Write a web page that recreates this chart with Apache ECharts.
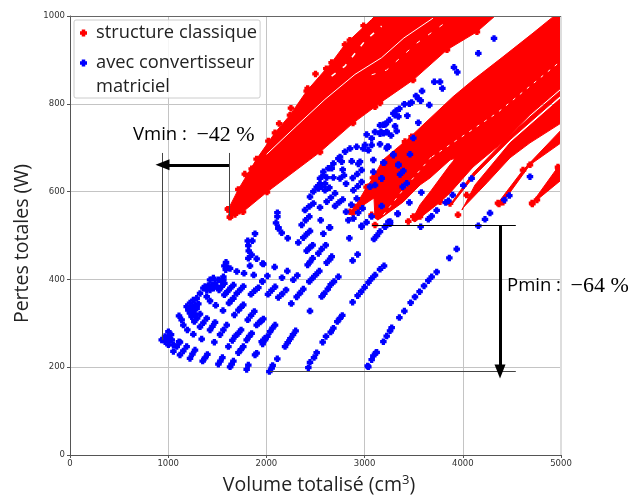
<!DOCTYPE html>
<html>
<head>
<meta charset="utf-8">
<style>html,body{margin:0;padding:0;background:#fff}#c{width:636px;height:495px}</style>
<script src="https://cdn.jsdelivr.net/npm/echarts@6/dist/echarts.min.js"></script>
</head>
<body>
<div id="c"></div>
<script>
// Red regions: outlines as [volume, losses]
const bandA = [[4328,1000],[4144,964],[3839,923],[3493,854],[3157,802],[3106,793],[2882,756],[2546,690],[2006,599],[1762,554],[1629,542],[1609,560],[1612,560],[1714,605],[1900,674],[2087,734],[2240,774],[2410,829],[2664,894],[2800,935],[3071,992],[3105,1000]];
const bandB = [[3085,631],[3187,672],[3462,724],[3900,816],[4104,854],[4409,907],[4715,961],[4918,998],[5000,1000],[5000,836],[4684,775],[4409,713],[4104,656],[3870,597],[3768,576],[3513,531],[3483,535],[3564,570],[3666,599],[3870,661],[3931,677],[3870,672],[3666,631],[3564,615],[3391,576],[3136,535],[3106,540]];
const bandTail = [[2851,554],[2902,565],[3020,610],[3085,631],[3187,620],[3126,590],[2933,561],[2882,551]];
const bandY = [[3870,570],[4104,642],[4450,722],[4684,770],[5000,831],[5000,820],[4481,718],[4124,638],[3900,574]];
const bandZ = [[3992,558],[4124,615],[4481,711],[5000,813],[5000,756],[4684,711],[4481,677],[4246,620],[4002,563]];
const bandF = [[4358,574],[4613,649],[5000,740],[5000,711],[4684,661],[4409,576]];
const bandG = [[4705,574],[4969,656],[5000,656],[5000,626],[4755,581]];
const redOutliers = [[3106,524],[3445,532],[3564,543],[3496,543],[3951,547],[3768,577],[3870,573],[4039,592],[3938,672],[3411,714],[3479,725],[3038,611],[3072,547],[4369,572],[4708,572],[4973,653],[1609,560],[1629,542],[1720,555],[1680,548],[1800,618],[1850,652],[1780,640],[2020,715],[2130,755],[2420,835],[2500,868],[2610,880],[2850,945],[2990,978],[2250,790]];

// White seams inside the red regions
const seamA = [[2002,685],[2308,750],[2596,810],[2902,867],[3173,905],[3400,950],[3696,995]];
const seamB = [[2664,863],[2800,886],[3003,943],[3173,977]];
const seamC = [[3072,866],[3225,877],[3530,938],[3836,987]];
const seamD = [[3686,679],[4348,779],[4969,892]];
const seamE = [[3136,531],[3391,604],[3696,683]];

// Blue points
const blueTipCluster = [[934,262],[968,258],[1002,251],[968,270],[1002,281],[1029,274],[985,262],[1019,262],[1002,270],[1036,262],[1053,251],[1110,258],[1053,236],[1087,247],[1120,257],[1120,228],[1154,237],[1188,247],[1222,220],[1247,230],[1273,239],[1351,214],[1375,221],[1399,229],[1511,207],[1531,214],[1552,222],[1630,201],[1647,207],[1664,214],[1715,233],[1740,240],[1765,247],[1884,228],[1901,232],[1799,195],[1816,205],[1110,317],[1137,308],[1154,296],[1195,285],[1256,275],[1341,264],[1470,257],[1613,247]];
const blueSecondRow = [[1188,338],[1222,346],[1256,353],[1290,357],[1205,330],[1239,336],[1273,342],[1307,344],[1222,323],[1256,328],[1290,334],[1239,315],[1273,321],[1266,304],[1295,312],[1324,321],[1324,292],[1358,301],[1392,311],[1426,285],[1451,293],[1477,302],[1528,274],[1562,285],[1596,296],[1681,270],[1712,277],[1742,285],[1799,262],[1825,270],[1850,277],[1653,261],[1952,258],[1986,266],[1392,361],[1426,351],[1484,341],[1324,368]];
const blueThirdRow = [[1460,403],[1511,399],[1426,399],[1477,391],[1375,384],[1409,386],[1443,387],[1392,376],[1460,380],[1426,376],[1494,384],[1545,395],[1562,399],[1358,380],[1518,376],[1545,384],[1572,391],[1572,365],[1602,372],[1633,380],[1664,387],[1698,368],[1732,376],[1765,384],[1843,366],[1880,374],[1918,381],[1619,346],[1642,352],[1664,357],[1715,330],[1740,336],[1765,342],[1558,329],[1674,319],[1810,308],[1844,318],[1877,327],[1901,296],[1935,303],[1969,310]];
const blueArc = [[1884,504],[1810,488],[1857,488],[1816,477],[1820,465],[1850,456],[1816,448],[1901,447],[1962,436],[1833,431],[1772,414],[1698,418],[1871,410],[1589,439],[1572,431],[1606,427],[1586,422],[1630,425],[1562,406],[1959,395],[2122,516],[2156,506],[2217,494],[2325,484],[2376,495],[2410,503],[2444,510],[2580,504],[2648,518],[2845,494],[2970,522],[3096,492],[3126,500],[3157,509]];
const blueMiddle = [[2410,465],[2440,472],[2471,478],[2529,459],[2563,469],[2604,478],[2614,438],[2648,446],[2665,452],[2420,433],[2445,440],[2471,448],[2878,443],[2929,457],[3157,423],[3198,431],[1969,435],[2084,428],[2213,419],[2010,408],[1959,396],[2159,404],[2274,399],[2315,409],[2437,395],[2471,403],[2505,411],[2539,419],[2733,406],[2563,361],[2590,368],[2625,378],[2655,388],[2688,395],[2929,363],[2965,372],[3000,382],[3040,393],[3072,402],[3106,410],[2878,348],[2016,366],[2052,375],[2088,383],[2122,359],[2161,367],[2200,376],[2308,360],[2342,369],[2376,378],[2254,345],[2444,328]];
const blueLower = [[1945,305],[2037,281],[2062,289],[2088,296],[1962,253],[1986,262],[2010,270],[2190,247],[2217,256],[2244,265],[2271,274],[2298,283],[2722,304],[2748,311],[2773,318],[2682,289],[2607,270],[2655,280],[2573,257],[2512,233],[2444,211],[2485,222],[2427,199],[2111,219],[2064,204],[2030,190],[2054,198],[3031,203],[3072,217],[3116,233],[3089,226],[3191,258],[3225,271],[3259,283],[3038,201],[3123,234],[3276,290],[3354,313],[3405,328],[3469,347],[3513,360],[3560,372],[3605,385],[3649,397],[3683,406],[3734,417],[3863,449],[3938,469]];
const blueUpperMid = [[3157,751],[3208,753],[3021,730],[3072,721],[3106,736],[3157,732],[3225,736],[3072,706],[3004,706],[2987,698],[3038,694],[2919,702],[2851,698],[2801,691],[2750,679],[2682,664],[2631,653],[2580,645],[2869,669],[2953,668],[2936,663],[3089,672],[3191,666],[3232,702],[2767,668],[2733,675],[2777,650],[2665,653],[2546,630],[2580,637],[2614,632],[2546,618],[2597,618],[2682,632],[2529,607],[2563,611],[2879,631],[2925,640],[2970,649],[2750,630],[2790,637],[2811,618],[2886,603],[2930,612],[2970,622],[2614,577],[2657,586],[2699,596],[2699,567],[2738,575],[2777,582],[2444,588],[2478,600],[2512,610],[2597,603],[2641,609],[2393,558],[2435,566],[2478,573],[2546,564],[2811,554],[2865,570],[2920,584],[2835,535],[2886,539],[2935,552],[2980,562],[2359,524],[2400,535],[2437,543],[2553,535],[2641,518],[2112,552],[2112,543],[2098,529],[2122,518],[2970,520],[3020,530],[3072,543],[3174,630],[3089,645],[3344,660],[3293,683],[3055,611],[3106,615],[3242,531],[3208,520],[3259,527],[3337,549]];
const blueUpper = [[4318,949],[4158,915],[3910,883],[3944,872],[3710,850],[3768,850],[3792,835],[3585,829],[3524,818],[3547,812],[3571,807],[3405,799],[3456,800],[3479,803],[3659,797],[3435,773],[3293,778],[3320,784],[3354,789],[3310,774],[3344,771],[3252,763],[3191,752],[3218,755],[3310,749],[3547,757],[3327,738],[3269,728],[3225,735],[3191,733],[3167,736],[3496,722],[3242,702],[3225,699],[3157,708],[3462,685],[3293,685],[3198,666],[3344,662],[3361,639],[3395,647],[3174,630],[3388,611],[3429,619],[3578,598],[3456,575],[3174,567],[3337,550],[3897,592],[3853,579],[3826,575],[4090,630],[4005,614],[3734,557],[3649,537],[3683,544],[3571,520],[3259,532],[3208,520],[4158,522],[4226,537],[4277,551],[4423,581],[4474,591],[4684,634]];

// Annotation guides
const vminLeft = [[942,688],[942,262]];
const vminRight = [[1619,688],[1619,544]];
const vminArrow = [[1619,661],[942,661]];
const pminTop = [[3075,523],[4540,523]];
const pminBottom = [[2037,190],[4540,190]];
const pminArrow = [[4379,523],[4379,190]];

const xTicks = [0,1000,2000,3000,4000,5000];
const yTicks = [0,200,400,600,800,1000];

const redBands = [bandA,bandB,bandTail,bandY,bandZ,bandF,bandG];
const redPoints = [].concat(bandA,bandTail,bandF,bandG).filter(p=>p[0]<4980&&p[1]<985).concat(redOutliers);
const bluePoints = [].concat(blueTipCluster,blueSecondRow,blueThirdRow,blueArc,blueMiddle,blueLower,blueUpperMid,blueUpper);
const plus = 'path://M2.5 0h5v2.5h2.5v5h-2.5v2.5h-5v-2.5h-2.5v-5h2.5z';
const sans = '"Open Sans","DejaVu Sans",sans-serif';
const tick = '"DejaVu Sans",sans-serif';
const serif = '"Liberation Serif",serif';

const seam = (data,w,dash) => ({type:'line',data,symbol:'none',silent:true,z:2,lineStyle:{color:'#fff',width:w,type:dash||'solid'},animation:false});
const guide = (data,c,w,arrow,z) => ({type:'line',data:[],silent:true,z:z||6,animation:false,symbol:'none',
  markLine:{silent:true,animation:false,symbol:arrow?['none','triangle']:['none','none'],symbolSize:arrow?[11,14]:0,label:{show:false},
    lineStyle:{color:c,width:w,type:'solid'},data:[[{coord:data[0]},{coord:data[1]}]]}});
const label = (l,t,a,b) => ({type:'text',left:l,top:t,z:100,style:{text:'{a|'+a+'}{b|'+b+'}',
  rich:{a:{fontFamily:sans,fontSize:18.5,color:'#222'},b:{fontFamily:serif,fontSize:22,color:'#555'}}}});

const chart = echarts.init(document.getElementById('c'),null,{renderer:'canvas'});
chart.setOption({
  animation:false,
  backgroundColor:'#fff',
  grid:{left:70,right:75,top:16,bottom:40,outerBoundsMode:'none'},
  xAxis:{type:'value',min:0,max:5000,interval:1000,
    name:'Volume totalisé (cm{s|3})',nameLocation:'middle',nameGap:19,
    nameTextStyle:{fontFamily:sans,fontSize:19.5,color:'#222',padding:[0,0,0,7],rich:{s:{fontFamily:sans,fontSize:13,padding:[0,0,9,0],color:'#222'}}},
    axisLine:{onZero:false,lineStyle:{color:'#555',width:1}},axisTick:{length:3,lineStyle:{color:'#555'},customValues:xTicks},
    axisLabel:{fontFamily:tick,fontSize:8.5,color:'#333',margin:4,customValues:xTicks,formatter:v=>String(v)},
    splitLine:{show:true,lineStyle:{color:'#c4c4c4',width:1}}},
  yAxis:{type:'value',min:0,max:1000,interval:200,
    name:'Pertes totales (W)',nameLocation:'middle',nameGap:35,
    nameTextStyle:{fontFamily:sans,fontSize:19.5,color:'#222',padding:[0,16,0,0]},
    axisLine:{onZero:false,show:true,lineStyle:{color:'#555',width:1}},axisTick:{show:true,length:3,lineStyle:{color:'#555'},customValues:yTicks},
    axisLabel:{fontFamily:tick,fontSize:8.5,color:'#333',margin:5,customValues:yTicks,formatter:v=>String(v)},
    splitLine:{show:true,lineStyle:{color:'#c4c4c4',width:1}}},
  legend:{left:74,top:20,orient:'vertical',padding:[1,3,23,6],itemGap:6,itemWidth:7,itemHeight:7,
    backgroundColor:'rgba(255,255,255,0.85)',borderColor:'#ccc',borderWidth:1,borderRadius:2,
    icon:plus,
    data:['structure classique','avec convertisseur\nmatriciel'],
    formatter:n=>n.split('\n')[0],
    selectedMode:false,
    textStyle:{fontFamily:sans,fontSize:18.3,color:'#222',lineHeight:24,padding:[0,0,0,4]}},
  graphic:[
    {type:'text',left:96,top:78,z:100,style:{text:'matriciel',fontFamily:sans,fontSize:18.3,fill:'#222'}},
    label(133,124,'Vmin :\u00a0\u00a0','−42\u00a0%'),
    label(507,275,'Pmin :\u00a0\u00a0','−64\u00a0%')
  ],
  series:[
    {type:'custom',silent:true,z:1,data:redBands.map((b,i)=>[i]),clip:true,
      renderItem:(p,api)=>{
        const pts = redBands[api.value(0)].map(c=>api.coord(c));
        return {type:'polygon',shape:{points:pts},style:{fill:'#ff0000',stroke:'#ff0000',lineWidth:1,lineJoin:'round'}};
      }},
    seam(seamA,1),seam(seamB,1.5,[5,9]),seam(seamC,1,[4,10]),seam(seamD,1,[3,6]),seam(seamE,1,[3,6]),
    {name:'structure classique',type:'scatter',data:redPoints,symbol:plus,symbolSize:6.5,z:3,clip:true,itemStyle:{color:'#ff0000',opacity:1}},
    {name:'avec convertisseur\nmatriciel',type:'scatter',data:bluePoints,symbol:plus,symbolSize:6.5,z:4,clip:true,itemStyle:{color:'#0000ff',opacity:1}},
    guide([[5000,0],[5000,1000]],'#ddd',2,false,0.5),
    guide(vminLeft,'#444',1),guide(vminRight,'#444',1),guide(vminArrow,'#000',3,true),
    guide(pminTop,'#000',1),guide(pminBottom,'#444',1),guide(pminArrow,'#000',3,true),
    guide([[0,1000],[5000,1000]],'#666',1)
  ]
});
</script>
</body>
</html>
